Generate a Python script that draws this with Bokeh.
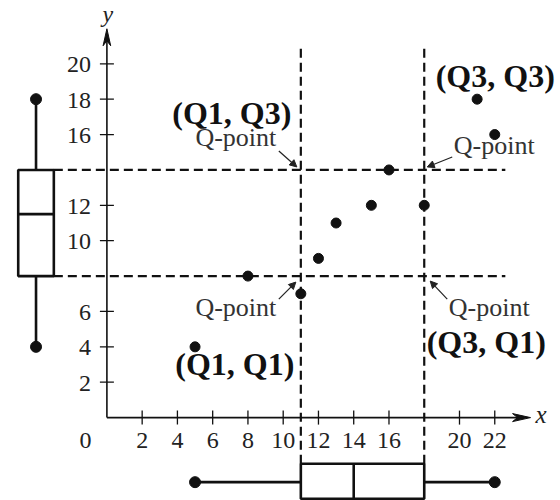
from bokeh.plotting import figure
from bokeh.models import Range1d, Arrow, NormalHead
from bokeh.core.properties import value
from bokeh.embed import file_html
from bokeh.resources import INLINE

# paired observations (x, y)
x_vals = [5, 8, 11, 12, 13, 15, 16, 18, 21, 22]
y_vals = [4, 8, 7, 9, 11, 12, 14, 12, 18, 16]

# axis ticks and their labels
x_ticks = [2, 4, 6, 8, 10, 12, 14, 16, 20, 22]
x_tick_labels = ["2", "4", "6", "8", "10", "12", "14", "16", "20", "22"]
y_ticks = [2, 4, 6, 10, 12, 16, 18, 20]
y_tick_labels = ["2", "4", "6", "10", "12", "16", "18", "20"]


def median(vals):
    s = sorted(vals)
    n = len(s)
    m = n // 2
    return s[m] if n % 2 else (s[m - 1] + s[m]) / 2


def five_number(vals):
    s = sorted(vals)
    n = len(s)
    lower = s[: n // 2]
    upper = s[(n + 1) // 2:]
    return s[0], median(lower), median(s), median(upper), s[-1]


x_min, q1x, medx, q3x, x_max = five_number(x_vals)
y_min, q1y, medy, q3y, y_max = five_number(y_vals)

# ---- canvas geometry ----
W, H = 560, 500
SX, SY = 17.63, 17.69          # pixels per unit
ORIGIN_PX = (106.4, 417.1)     # where (0, 0) sits on the canvas
x_start = -ORIGIN_PX[0] / SX
y_end = ORIGIN_PX[1] / SY


def ux(px):
    return px / SX


def uy(px):
    return px / SY


p = figure(width=W, height=H, output_backend="svg", toolbar_location=None,
           x_range=Range1d(x_start, x_start + W / SX),
           y_range=Range1d(y_end - H / SY, y_end),
           x_axis_location=None, y_axis_location=None,
           min_border=0, min_border_left=0, min_border_right=0,
           min_border_top=0, min_border_bottom=0)
p.grid.visible = False
p.outline_line_color = None
p.background_fill_color = "white"

INK = "#111111"
SERIF = value("Liberation Serif")

# marginal box plot positions
LEFT_BOX = (-5.03, -3.01)
LEFT_WHISKER_X = -4.02
BOTTOM_BOX = (-4.59, -2.61)
BOTTOM_WHISKER_Y = -3.65
DASH_TOP = 20.92
DASH_RIGHT = 22.6
X_TIP, Y_TIP = 24.03, 21.98

# ---- quartile guide lines ----
for qx in (q1x, q3x):
    p.line([qx, qx], [BOTTOM_BOX[1], DASH_TOP], line_color=INK,
           line_width=2.2, line_dash="9 5")
for qy in (q1y, q3y):
    p.line([LEFT_BOX[1], DASH_RIGHT], [qy, qy], line_color=INK,
           line_width=2.2, line_dash="9 5")

# ---- axes ----
p.line([0, 0], [0, Y_TIP - uy(10)], line_color=INK, line_width=1.6)
p.line([0, X_TIP - ux(10)], [0, 0], line_color=INK, line_width=1.6)
p.patch([0, ux(3.8), 0, -ux(3.8)],
        [Y_TIP, Y_TIP - uy(17), Y_TIP - uy(12), Y_TIP - uy(17)],
        fill_color=INK, line_color=INK, line_width=1)
p.patch([X_TIP, X_TIP - ux(18), X_TIP - ux(13), X_TIP - ux(18)],
        [0, uy(4), 0, -uy(4)],
        fill_color=INK, line_color=INK, line_width=1)

tick_half = 7
p.segment(x0=x_ticks, y0=[-uy(tick_half)] * len(x_ticks),
          x1=x_ticks, y1=[uy(tick_half)] * len(x_ticks),
          line_color=INK, line_width=1.3)
p.segment(x0=[-ux(tick_half)] * len(y_ticks), y0=y_ticks,
          x1=[ux(tick_half)] * len(y_ticks), y1=y_ticks,
          line_color=INK, line_width=1.3)

p.text(x=x_ticks, y=[0] * len(x_ticks), text=x_tick_labels,
       y_offset=23, text_align="center", text_baseline="alphabetic",
       text_font=SERIF, text_font_size="24px", text_color="#222222")
p.text(x=[0] * len(y_ticks), y=y_ticks, text=y_tick_labels,
       x_offset=-16, y_offset=1, text_align="right", text_baseline="alphabetic",
       text_font=SERIF, text_font_size="24px", text_color="#222222")
p.text(x=[0], y=[0], text=["0"], x_offset=-21.5, y_offset=23,
       text_align="center", text_baseline="alphabetic",
       text_font=SERIF, text_font_size="24px", text_color="#222222")
p.text(x=[0], y=[Y_TIP], text=["y"], x_offset=1, y_offset=-15,
       text_align="center", text_baseline="alphabetic", text_font=SERIF,
       text_font_style="italic", text_font_size="24px", text_color="#222222")
p.text(x=[X_TIP], y=[0], text=["x"], x_offset=5, y_offset=-3,
       text_align="left", text_baseline="alphabetic", text_font=SERIF,
       text_font_style="italic", text_font_size="25px", text_color="#222222")

# ---- scatter ----
p.scatter(x_vals, y_vals, size=10, fill_color=INK, line_color=INK)

# ---- box plot of y (left margin) ----
p.quad(left=LEFT_BOX[0], right=LEFT_BOX[1], bottom=q1y, top=q3y,
       fill_color=None, line_color=INK, line_width=2.6)
p.segment(x0=[LEFT_BOX[0]], y0=[medy], x1=[LEFT_BOX[1]], y1=[medy],
          line_color=INK, line_width=2.6)
p.segment(x0=[LEFT_WHISKER_X, LEFT_WHISKER_X], y0=[q3y, q1y],
          x1=[LEFT_WHISKER_X, LEFT_WHISKER_X], y1=[y_max, y_min],
          line_color=INK, line_width=2.6)
p.scatter([LEFT_WHISKER_X, LEFT_WHISKER_X], [y_max, y_min], size=11,
          fill_color=INK, line_color=INK)

# ---- box plot of x (bottom margin) ----
p.quad(left=q1x, right=q3x, bottom=BOTTOM_BOX[0], top=BOTTOM_BOX[1],
       fill_color=None, line_color=INK, line_width=2.6)
p.segment(x0=[medx], y0=[BOTTOM_BOX[0]], x1=[medx], y1=[BOTTOM_BOX[1]],
          line_color=INK, line_width=2.6)
p.segment(x0=[x_min, q3x], y0=[BOTTOM_WHISKER_Y] * 2,
          x1=[q1x, x_max], y1=[BOTTOM_WHISKER_Y] * 2,
          line_color=INK, line_width=2.6)
p.scatter([x_min, x_max], [BOTTOM_WHISKER_Y] * 2, size=11,
          fill_color=INK, line_color=INK)

# ---- Q-point call-outs ----
# (corner, name, name offset, "Q-point" offset, arrow start, arrow end) in px
callouts = [
    ((q1x, q3y), "(Q1, Q3)", (-69, -57), (-65, -32), (-22, -19), (-4, -3)),
    ((q3x, q3y), "(Q3, Q3)", (71, -94), (70, -24), (28, -13), (3, -3)),
    ((q1x, q1y), "(Q1, Q1)", (-66, 88), (-65, 31), (-22, 23), (-5, 6)),
    ((q3x, q1y), "(Q3, Q1)", (62, 66), (65, 31), (23, 23), (6, 5)),
]
for (cx, cy), name, n_off, q_off, a0, a1 in callouts:
    p.text(x=[cx], y=[cy], text=[name], x_offset=n_off[0], y_offset=n_off[1],
           text_align="center", text_baseline="alphabetic", text_font=SERIF,
           text_font_style="bold", text_font_size="32px", text_color="#111111")
    p.text(x=[cx], y=[cy], text=["Q-point"], x_offset=q_off[0], y_offset=q_off[1],
           text_align="center", text_baseline="alphabetic", text_font=SERIF,
           text_font_size="26px", text_color="#333333")
    p.add_layout(Arrow(
        end=NormalHead(size=7, fill_color="#222222", line_color="#222222", line_width=1),
        x_start=cx + ux(a0[0]), y_start=cy - uy(a0[1]),
        x_end=cx + ux(a1[0]), y_end=cy - uy(a1[1]),
        line_color="#222222", line_width=1.2))

open("out.html", "w").write(file_html(p, INLINE))
